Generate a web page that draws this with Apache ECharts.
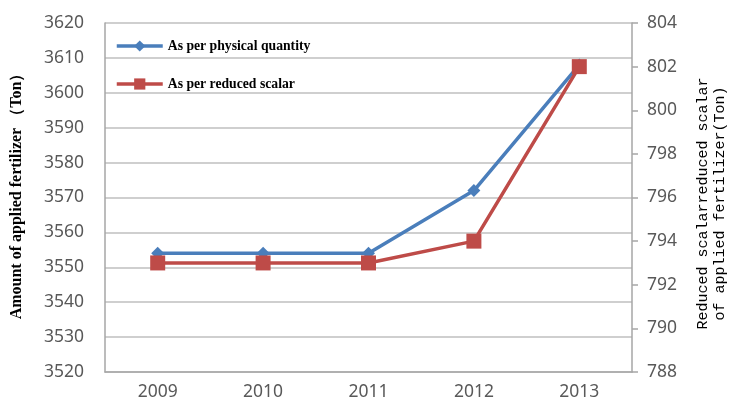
<!DOCTYPE html>
<html>
<head>
<meta charset="utf-8">
<script src="https://cdn.jsdelivr.net/npm/echarts@6/dist/echarts.min.js"></script>
<style>
  html, body { margin: 0; padding: 0; background: #fff; }
  #chart { width: 731px; height: 408px; }
</style>
</head>
<body>
<div id="chart"></div>
<script>
// Years on the category axis
const years = ['2009', '2010', '2011', '2012', '2013'];
// Fertilizer amounts (ton)
const physicalQuantity = [3554, 3554, 3554, 3572, 3608];
const reducedScalar = [793, 793, 793, 794, 802];
// Axis ranges
const leftAxisRange = { min: 3520, max: 3620, interval: 10 };
const rightAxisRange = { min: 788, max: 804, interval: 2 };

const chart = echarts.init(document.getElementById('chart'), null, { renderer: 'canvas' });

const tickFont = { color: '#595959', fontSize: 17.5, fontFamily: 'Noto Sans', formatter: v => String(v) };
const gridLine = { lineStyle: { color: '#BFBFBF', width: 1.5 } };
const axisLine = { show: true, lineStyle: { color: '#A6A6A6', width: 1.5 } };

chart.setOption({
  animation: false,
  backgroundColor: '#fff',
  grid: { left: 105, right: 99, top: 23, bottom: 36, containLabel: false, outerBoundsMode: 'none' },
  legend: {
    orient: 'vertical',
    left: 110,
    top: 34,
    itemGap: 24,
    itemWidth: 46,
    itemHeight: 14,
    lineStyle: { width: 3.5 },
    textStyle: { fontFamily: 'Liberation Serif', fontWeight: 'bold', fontSize: 13.7, color: '#000' },
    data: ['As per physical quantity', 'As per reduced scalar']
  },
  xAxis: {
    type: 'category',
    data: years,
    boundaryGap: true,
    axisLine: axisLine,
    axisTick: { show: false },
    axisLabel: Object.assign({}, tickFont, { margin: 11 })
  },
  yAxis: [
    {
      type: 'value',
      position: 'left',
      min: leftAxisRange.min,
      max: leftAxisRange.max,
      interval: leftAxisRange.interval,
      name: 'Amount of applied fertilizer （Ton）',
      nameLocation: 'middle',
      nameRotate: 90,
      nameGap: 80,
      nameTextStyle: { fontFamily: 'Liberation Serif', fontWeight: 'bold', fontSize: 16, color: '#000', padding: [0, 0, 0, 10] },
      axisLine: axisLine,
      axisTick: { show: false },
      axisLabel: Object.assign({}, tickFont, { margin: 21 }),
      splitLine: gridLine
    },
    {
      type: 'value',
      position: 'right',
      min: rightAxisRange.min,
      max: rightAxisRange.max,
      interval: rightAxisRange.interval,
      name: 'Reduced scalarreduced scalar\nof applied fertilizer(Ton)',
      nameLocation: 'middle',
      nameRotate: 90,
      nameGap: 63,
      nameTextStyle: { fontFamily: 'Liberation Mono', fontSize: 15, color: '#000', lineHeight: 17, align: 'center', padding: [0, 12, 0, 0] },
      axisLine: axisLine,
      axisTick: { show: true, inside: false, length: 6, lineStyle: { color: '#A6A6A6', width: 1.5 } },
      axisLabel: Object.assign({}, tickFont, { margin: 15 }),
      splitLine: { show: false }
    }
  ],
  series: [
    {
      name: 'As per physical quantity',
      type: 'line',
      yAxisIndex: 0,
      data: physicalQuantity,
      symbol: 'diamond',
      symbolSize: 13,
      lineStyle: { color: '#4A7EBB', width: 3.5 },
      itemStyle: { color: '#4A7EBB' },
      z: 3
    },
    {
      name: 'As per reduced scalar',
      type: 'line',
      yAxisIndex: 1,
      data: reducedScalar,
      symbol: 'rect',
      symbolSize: 15,
      lineStyle: { color: '#BE4B48', width: 3.5 },
      itemStyle: { color: '#BE4B48' },
      z: 4
    }
  ]
});
</script>
</body>
</html>
